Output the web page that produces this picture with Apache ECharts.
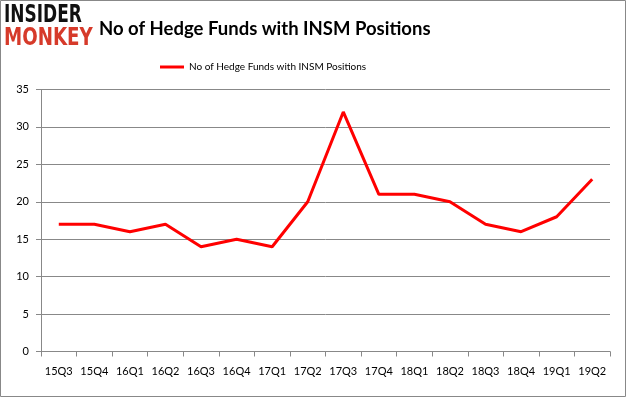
<!DOCTYPE html>
<html><head><meta charset="utf-8">
<script src="https://cdn.jsdelivr.net/npm/echarts@6/dist/echarts.min.js"></script>
<style>html,body{margin:0;padding:0;background:#fff}#c{width:626px;height:397px}</style>
</head><body><div id="c"></div>
<script>
const categories = ['15Q3','15Q4','16Q1','16Q2','16Q3','16Q4','17Q1','17Q2','17Q3','17Q4','18Q1','18Q2','18Q3','18Q4','19Q1','19Q2'];
const hedgeFunds = [17,17,16,17,14,15,14,20,32,21,21,20,17,16,18,23];
const yTicks = {min:0, max:35, interval:5};
const seriesName = 'No of Hedge Funds with INSM Positions';

const chart = echarts.init(document.getElementById('c'));
chart.setOption({
  animation:false,
  backgroundColor:'#fff',
  title:{text:'No of Hedge Funds with INSM Positions', left:94, top:15,
    textStyle:{fontFamily:'Lato',fontWeight:'bold',fontSize:18.5,color:'#000'}},
  graphic:[
    {type:'rect',shape:{x:0.5,y:0.5,width:625,height:396},style:{fill:'none',stroke:'#888',lineWidth:1}},
    {type:'text',x:4,y:3,scaleX:0.68,style:{text:'INSIDER',fontFamily:'DejaVu Sans',fontWeight:'bold',fontSize:25,fill:'#111',verticalAlign:'top'}},
    {type:'text',x:4,y:26,scaleX:0.73,style:{text:'MONKEY',fontFamily:'DejaVu Sans',fontWeight:'bold',fontSize:25,fill:'#d63a2a',verticalAlign:'top'}}
  ],
  legend:{top:57,left:155,itemWidth:24,itemHeight:3,itemGap:3,icon:'rect',
    textStyle:{fontFamily:'Lato',fontSize:10,color:'#000'},data:[seriesName]},
  grid:{left:41,right:16,top:89.5,bottom:45.5},
  xAxis:{type:'category',data:categories,boundaryGap:true,
    axisLine:{lineStyle:{color:'#888'}},
    axisTick:{show:true,length:5,interval:0,lineStyle:{color:'#888'}},
    axisLabel:{fontFamily:'Lato',fontSize:11,color:'#000',margin:14,interval:0}},
  yAxis:{type:'value',min:yTicks.min,max:yTicks.max,interval:yTicks.interval,
    axisLine:{show:true,lineStyle:{color:'#888'}},
    axisTick:{show:true,length:5,lineStyle:{color:'#888'}},
    splitLine:{lineStyle:{color:'#888'}},
    axisLabel:{fontFamily:'Lato',fontSize:11,color:'#000',margin:12}},
  series:[{name:seriesName,type:'line',data:hedgeFunds,showSymbol:false,
    lineStyle:{color:'#ff0000',width:3},itemStyle:{color:'#ff0000'}}]
});
</script></body></html>
